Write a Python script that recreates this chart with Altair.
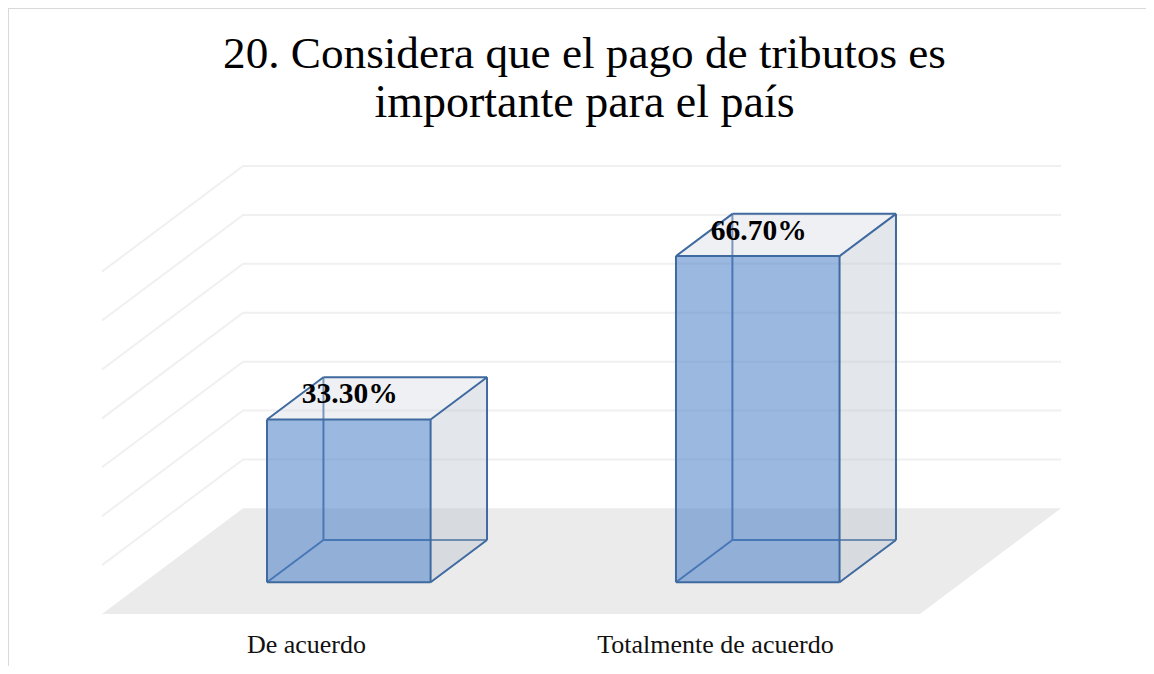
import altair as alt
import pandas as pd

categories = ["De acuerdo", "Totalmente de acuerdo"]
values = [33.3, 66.7]
labels = ["33.30%", "66.70%"]
grid_values = [10, 20, 30, 40, 50, 60, 70]
title_lines = ["20. Considera que el pago de tributos es", "importante para el país"]

# Oblique projection of the 3D box chart
DX, DY = 0.345, 21.6          # wall shift in slot units / value units
HALF = 0.2                    # half bar width (slot units)
D0, D1 = 0.3, 0.7             # bar front / back depth
X_DOM = [0, 2 + DX]
Y_DOM = [-DY, 70]
FONT = "Liberation Serif"
PAD_L, PAD_T = 94, 158


def px(slot, depth):
    return slot + depth * DX


def py(value, depth):
    return value - DY + depth * DY


x_s = alt.Scale(domain=X_DOM, nice=False, zero=False)
y_s = alt.Scale(domain=Y_DOM, nice=False, zero=False)
X = alt.X("x:Q", scale=x_s, axis=None)
Y = alt.Y("y:Q", scale=y_s, axis=None)

floor = pd.DataFrame([
    {"y": py(0, 0), "x": px(0, 0), "x2": px(2, 0)},
    {"y": py(0, 1), "x": px(0, 1), "x2": px(2, 1)},
])

grid_rows = []
for v in grid_values:
    for i, (s, d) in enumerate([(0, 0), (0, 1), (2, 1)]):
        grid_rows.append({"g": v, "o": i, "x": px(s, d), "y": py(v, d)})
grid = pd.DataFrame(grid_rows)

front, side, top, hidden, visible = [], [], [], [], []
for i, v in enumerate(values):
    c = i + 0.5
    l, r = c - HALF, c + HALF
    front.append({"x": px(l, D0), "x2": px(r, D0), "y": py(0, D0), "y2": py(v, D0)})
    for d in (D0, D1):
        side.append({"b": i, "x": px(r, d), "y": py(0, d), "y2": py(v, d)})
        top.append({"b": i, "y": py(v, d), "x": px(l, d), "x2": px(r, d)})

    def edge(store, name, a, b):
        for o, (s, d, w) in enumerate((a, b)):
            store.append({"e": f"{i}-{name}", "o": o, "x": px(s, d), "y": py(w, d)})

    edge(hidden, "bl", (l, D1, 0), (l, D1, v))
    edge(hidden, "bb", (l, D1, 0), (r, D1, 0))
    edge(hidden, "dl", (l, D0, 0), (l, D1, 0))
    edge(visible, "fl", (l, D0, 0), (l, D0, v))
    edge(visible, "fr", (r, D0, 0), (r, D0, v))
    edge(visible, "ft", (l, D0, v), (r, D0, v))
    edge(visible, "fb", (l, D0, 0), (r, D0, 0))
    edge(visible, "tl", (l, D0, v), (l, D1, v))
    edge(visible, "tr", (r, D0, v), (r, D1, v))
    edge(visible, "tb", (l, D1, v), (r, D1, v))
    edge(visible, "br", (r, D1, 0), (r, D1, v))
    edge(visible, "dr", (r, D0, 0), (r, D1, 0))

lab = pd.DataFrame({
    "x": [px(i + 0.5, D0) for i in range(2)],
    "y": [py(v, D0) for v in values],
    "t": labels,
})
cat = pd.DataFrame({
    "x": [px(i + 0.5, 0) for i in range(2)],
    "y": [py(0, 0)] * 2,
    "t": categories,
})

EDGE = "#3f6a9f"

floor_l = alt.Chart(floor).mark_area(orient="horizontal", color="#ebebeb", opacity=1).encode(
    y=Y, x=X, x2="x2:Q")
grid_l = alt.Chart(grid).mark_line(color="#f0f0f0", strokeWidth=2).encode(
    x=X, y=Y, detail="g:N", order="o:Q")
hidden_l = alt.Chart(pd.DataFrame(hidden)).mark_line(color=EDGE, strokeWidth=2).encode(
    x=X, y=Y, detail="e:N", order="o:Q")
side_l = alt.Chart(pd.DataFrame(side)).mark_area(color="#b9c1ce", opacity=0.4).encode(
    x=X, y=Y, y2="y2:Q", detail="b:N")
top_l = alt.Chart(pd.DataFrame(top)).mark_area(orient="horizontal", color="#d7d9e3", opacity=0.4).encode(
    y=Y, x=X, x2="x2:Q", detail="b:N")
front_l = alt.Chart(pd.DataFrame(front)).mark_rect(color="#4f83c8", opacity=0.57).encode(
    x=X, x2="x2:Q", y=Y, y2="y2:Q")
visible_l = alt.Chart(pd.DataFrame(visible)).mark_line(color=EDGE, strokeWidth=2).encode(
    x=X, y=Y, detail="e:N", order="o:Q")
lab_l = alt.Chart(lab).mark_text(font=FONT, fontSize=29.5, fontWeight="bold", color="#000000",
                                 dy=-25, dx=1, baseline="middle").encode(x=X, y=Y, text="t:N")
cat_l = alt.Chart(cat).mark_text(font=FONT, fontSize=26, color="#111111",
                                 dy=31, baseline="middle").encode(x=X, y=Y, text="t:N")

# Title: two centred lines above the plot
title_df = pd.DataFrame({"t": title_lines, "x": [px(1, 0.5)] * 2, "y": [70, 70]})
title_1 = alt.Chart(title_df.iloc[[0]]).mark_text(
    font=FONT, fontSize=45.2, color="#000000", baseline="alphabetic", dy=-98, dx=3
).encode(x=X, y=Y, text="t:N")
title_2 = alt.Chart(title_df.iloc[[1]]).mark_text(
    font=FONT, fontSize=46, color="#000000", baseline="alphabetic", dy=-49, dx=3
).encode(x=X, y=Y, text="t:N")

# Outer frame of the picture (top and left edge only)
frame_top = alt.Chart(pd.DataFrame({"a": [0]})).mark_rule(color="#d9d9d9", strokeWidth=2).encode(
    x=alt.value(-PAD_L), x2=alt.value(1052), y=alt.value(-PAD_T))
frame_left = alt.Chart(pd.DataFrame({"a": [0]})).mark_rule(color="#d9d9d9", strokeWidth=2).encode(
    x=alt.value(-PAD_L), y=alt.value(-PAD_T), y2=alt.value(500))

chart = alt.layer(
    floor_l, grid_l, hidden_l, side_l, top_l, front_l, visible_l, lab_l, cat_l, title_1, title_2,
    frame_top, frame_left,
).properties(
    width=959,
    height=448,
    padding={"left": PAD_L, "top": PAD_T, "right": 85, "bottom": 52},
    autosize=alt.AutoSizeParams(type="none"),
    background="white",
).configure_view(stroke=None)

chart.save("out.html", embed_options={"renderer": "svg", "actions": False})
